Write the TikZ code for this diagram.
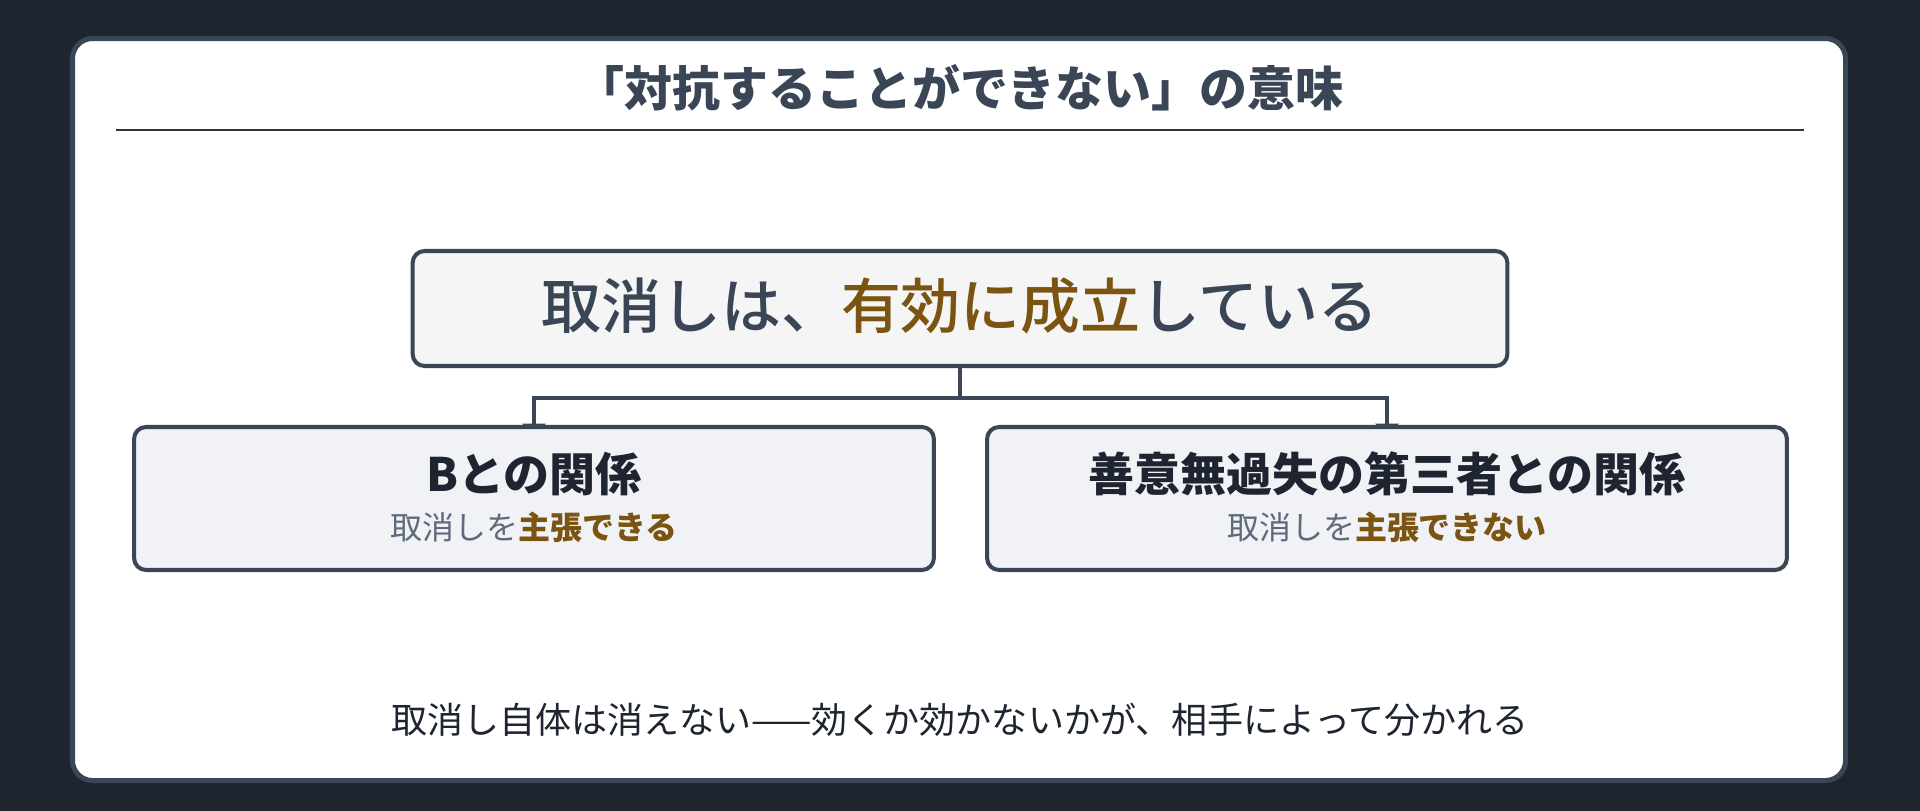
\documentclass[tikz,border=0pt]{standalone}
\usepackage{fontspec}
\setmainfont{Noto Sans CJK JP}
\newfontfamily\jpmedium{Noto Sans CJK JP Medium}
\usepackage{tikz}
\usetikzlibrary{arrows.meta}

\definecolor{bgdark}{RGB}{30,37,47}
\definecolor{slate}{RGB}{58,69,86}
\definecolor{rulecol}{RGB}{43,51,64}
\definecolor{accent}{RGB}{122,84,16}
\definecolor{subgray}{RGB}{95,107,122}
\definecolor{inkdark}{RGB}{30,37,48}
\definecolor{topfill}{RGB}{245,245,245}
\definecolor{childfill}{RGB}{240,242,246}

\pgfdeclarelayer{back}
\pgfdeclarelayer{wires}
\pgfsetlayers{back,wires,main}

\tikzset{
  card/.style={draw=slate, fill=white, line width=2.85pt, rounded corners=11.4pt},
  resultbox/.style={draw=slate, fill=topfill, line width=2.3pt, rounded corners=6.8pt,
    minimum width=21.9cm, minimum height=2.3cm, inner sep=0pt},
  relbox/.style={draw=slate, fill=childfill, line width=2.3pt, rounded corners=6.8pt,
    minimum width=16cm, minimum height=2.86cm, inner sep=0pt},
  wire/.style={draw=slate, line width=2pt},
  arr/.style={wire, -{Triangle[width=13pt, length=7pt]}, shorten >=-0.22cm},
}

\begin{document}
\begin{tikzpicture}[x=0.02cm, y=-0.02cm]
      \useasboundingbox (0,0) rectangle (1920,811);
      \begin{pgfonlayer}{back}
        \fill[bgdark] (0,0) rectangle (1920,811);
        \draw[card] (72.5,38.5) rectangle (1845.5,780.5);
      \end{pgfonlayer}
      %%%%%%%%%%%%%%%%%%%%%%%%%%%%%%%%%%%%%%%%%%%%%%%
      \node[text=slate, font=\fontsize{27.3pt}{32pt}\selectfont\bfseries] at (960,88) (title) {「対抗することができない」の意味};
      \draw[rulecol, line width=1.7pt] (116,130) -- (1804,130);
      %%%%%%%%%%%%%%%%%%%%%%%%%%%%%%%%%%%%%%%%%%%%%%%
      \node[resultbox] at (960,308.5) (result) {};
      \node[text=slate, font=\fontsize{34.1pt}{40pt}\selectfont\jpmedium] at (960,306) (resulttxt) {取消しは、\textcolor{accent}{有効に成立}している};
      %%%%%%%%%%%%%%%%%%%%%%%%%%%%%%%%%%%%%%%%%%%%%%%
      \node[relbox] at (534,498.5) (withb) {};
      \node[text=inkdark, font=\fontsize{26.2pt}{30pt}\selectfont\bfseries] at (534,474) (withbhead) {Bとの関係};
      \node[text=subgray, font=\fontsize{18.2pt}{22pt}\selectfont] at (534,527) (withbnote) {取消しを\textcolor{accent}{\bfseries 主張できる}};
      \node[relbox] at (1387,498.5) (third) {};
      \node[text=inkdark, font=\fontsize{26.2pt}{30pt}\selectfont\bfseries] at (1387,474) (thirdhead) {善意無過失の第三者との関係};
      \node[text=subgray, font=\fontsize{18.2pt}{22pt}\selectfont] at (1387,527) (thirdnote) {取消しを\textcolor{accent}{\bfseries 主張できない}};
      %%%%%%%%%%%%%%%%%%%%%%%%%%%%%%%%%%%%%%%%%%%%%%%
      \coordinate (fork) at (960,398);
      \begin{pgfonlayer}{wires}
        \draw[wire] (result.south) -- (fork);
        \draw[arr] (fork) -| (withb.north);
        \draw[arr] (fork) -| (third.north);
      \end{pgfonlayer}
      %%%%%%%%%%%%%%%%%%%%%%%%%%%%%%%%%%%%%%%%%%%%%%%
      \node[text=inkdark, font=\fontsize{20.5pt}{24pt}\selectfont] at (960,720) (summary) {取消し自体は消えない——効くか効かないかが、相手によって分かれる};
      %%%%%%%%%%%%%%%%%%%%%%%%%%%%%%%%%%%%%%%%%%%%%%%
\end{tikzpicture}
\end{document}
